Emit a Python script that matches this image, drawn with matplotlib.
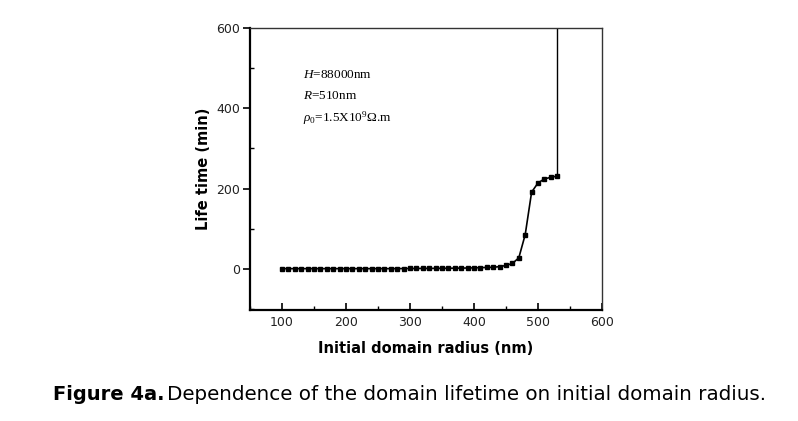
"""
Зависимость времени жизни домена от начального радиуса
"""
import matplotlib.pyplot as plt
from matplotlib.ticker import MultipleLocator

# Данные
radius = [100, 110, 120, 130, 140, 150, 160, 170, 180, 190,
          200, 210, 220, 230, 240, 250, 260, 270, 280, 290,
          300, 310, 320, 330, 340, 350, 360, 370, 380, 390,
          400, 410, 420, 430, 440, 450, 460, 470, 480, 490,
          500, 510, 520, 530]
lifetime = [0, 0, 0, 0, 0, 0, 0, 0, 0, 0,
            0, 0, 0, 0, 0, 0, 0, 0, 0, 0.3,
            0.4, 0.5, 0.6, 0.7, 0.8, 0.9, 1.0, 1.2, 1.4, 1.6,
            2, 2.5, 3, 3.5, 5, 8, 13, 27, 85, 191,
            214, 224, 228, 231]
# при R=530 нм время жизни уходит в бесконечность
blowup_radius = 530
blowup_lifetime = 5000

plt.rcParams['mathtext.fontset'] = 'custom'
plt.rcParams['mathtext.rm'] = 'Liberation Serif'
plt.rcParams['mathtext.it'] = 'Liberation Serif:italic'

fig = plt.figure(figsize=(7.98, 4.21), dpi=100)
ax = fig.add_axes([0.3133, 0.2648, 0.4411, 0.668])

ax.plot(radius, lifetime, color='black', linewidth=1.2, marker='s',
        markersize=3.2, zorder=3)
ax.plot([radius[-1], blowup_radius], [lifetime[-1], blowup_lifetime],
        color='black', linewidth=1.0, clip_on=True)

ax.set_xlim(50, 600)
ax.set_ylim(-102, 600)
ax.xaxis.set_major_locator(MultipleLocator(100))
ax.xaxis.set_minor_locator(MultipleLocator(50))
ax.yaxis.set_major_locator(MultipleLocator(200))
ax.yaxis.set_minor_locator(MultipleLocator(100))

ax.tick_params(axis='x', which='major', direction='in', length=5, width=1.2,
               labelsize=9, pad=5, labelcolor='#222222')
ax.tick_params(axis='x', which='minor', direction='in', length=3, width=1.0)
ax.tick_params(axis='y', which='major', direction='out', length=5, width=1.2,
               labelsize=9, pad=2, labelcolor='#222222')
ax.tick_params(axis='y', which='minor', direction='in', length=3, width=1.0)

for side in ['left', 'bottom']:
    ax.spines[side].set_linewidth(1.6)
for side in ['top', 'right']:
    ax.spines[side].set_linewidth(1.0)
    ax.spines[side].set_color('#333333')

ax.set_xlabel('Initial domain radius (nm)', fontsize=10.5, fontweight='bold',
              labelpad=8)
ax.set_ylabel('Life time (min)', fontsize=10.5, fontweight='bold', labelpad=4)

# Параметры расчета
serif = 'Liberation Serif'
ax.text(0.15, 0.833, r'$\it{H}$=88000nm', transform=ax.transAxes,
        fontsize=9.5, family=serif, va='center')
ax.text(0.15, 0.758, r'$\it{R}$=510nm', transform=ax.transAxes,
        fontsize=9.5, family=serif, va='center')
ax.text(0.15, 0.680, r'$\rho_0$=1.5X10$^9$$\Omega$.m', transform=ax.transAxes,
        fontsize=9.5, family=serif, va='center')

# Подпись рисунка
fig.text(0.066, 0.062, 'Figure 4a.', fontsize=14, fontweight='bold',
         family='DejaVu Sans', ha='left', va='center')
fig.text(0.209, 0.062, 'Dependence of the domain lifetime on initial domain radius.',
         fontsize=14.3, family='DejaVu Sans', ha='left', va='center')

plt.savefig('out.png', dpi=100)
plt.close()
